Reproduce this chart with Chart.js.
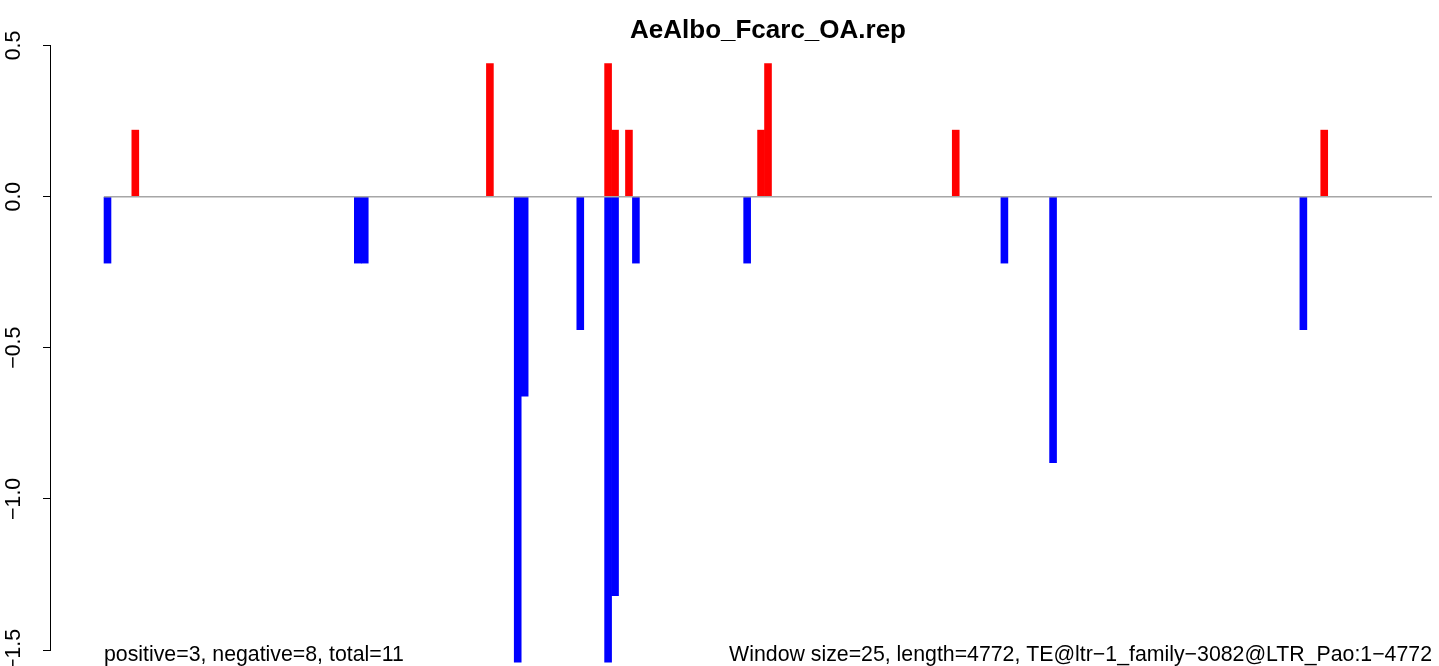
<!DOCTYPE html>
<html>
<head>
<meta charset="utf-8">
<script src="https://cdn.jsdelivr.net/npm/chart.js@4.4.0/dist/chart.umd.min.js"></script>
<style>
    html, body { margin: 0; padding: 0; background: #fff; }
    #wrap { width: 1439px; height: 666px; }
</style>
</head>
<body>
<div id="wrap"><canvas id="repChart" width="1439" height="666"></canvas></div>
<script>
// window index (0-based, 25 bp windows) and value of each bar
const posIdx = [4, 55, 72, 73, 75, 94, 95, 122, 175];
const posVal = [0.22, 0.44, 0.44, 0.22, 0.22, 0.22, 0.44, 0.22, 0.22];
const negIdx = [0, 36, 37, 59, 60, 68, 72, 73, 76, 92, 129, 136, 172];
const negVal = [-0.22, -0.22, -0.22, -1.54, -0.66, -0.44, -1.54, -1.32, -0.22, -0.22, -0.22, -0.88, -0.44];
const windowCount = 191;
const yTicks = [0.5, 0.0, -0.5, -1.0, -1.5];

const titleText = 'AeAlbo_Fcarc_OA.rep';
const leftNote = 'positive=3, negative=8, total=11';
const rightNote = 'Window size=25, length=4772, TE@ltr\u22121_family\u22123082@LTR_Pao:1\u22124772';

const toPoints = (xs, ys) => xs.map((x, i) => ({ x: x, y: ys[i] }));
const fmt = v => (v < 0 ? '\u2212' : '') + Math.abs(v).toFixed(1);

const textPlugin = {
    id: 'rText',
    afterDraw(chart) {
        const ctx = chart.ctx;
        const y = chart.scales.y;
        ctx.save();
        ctx.fillStyle = '#000';

        ctx.font = 'bold 26px "Liberation Sans", Arial, sans-serif';
        ctx.textAlign = 'center';
        ctx.textBaseline = 'alphabetic';
        ctx.fillText(titleText, 768, 38);

        ctx.font = '21.3px "Liberation Sans", Arial, sans-serif';
        ctx.textAlign = 'left';
        ctx.fillText(leftNote, 104, 661);
        ctx.textAlign = 'right';
        ctx.fillText(rightNote, 1432, 661);

        // rotated y tick labels
        ctx.textAlign = 'center';
        ctx.textBaseline = 'middle';
        yTicks.forEach(v => {
            ctx.save();
            ctx.translate(14, y.getPixelForValue(v));
            ctx.rotate(-Math.PI / 2);
            ctx.fillText(fmt(v), 0, 0);
            ctx.restore();
        });
        ctx.restore();
    }
};

new Chart(document.getElementById('repChart').getContext('2d'), {
    data: {
        datasets: [
            {
                type: 'line',
                data: [{ x: -0.5, y: 0 }, { x: windowCount - 0.5, y: 0 }],
                borderColor: '#a6a6a6',
                borderWidth: 1.5,
                pointRadius: 0,
                order: 0
            },
            {
                type: 'bar',
                data: toPoints(posIdx, posVal),
                backgroundColor: '#ff0000',
                borderWidth: 0,
                grouped: false,
                barPercentage: 1,
                categoryPercentage: 1,
                clip: false,
                order: 1
            },
            {
                type: 'bar',
                data: toPoints(negIdx, negVal),
                backgroundColor: '#0000ff',
                borderWidth: 0,
                grouped: false,
                barPercentage: 1,
                categoryPercentage: 1,
                clip: false,
                order: 1
            }
        ]
    },
    options: {
        responsive: false,
        devicePixelRatio: 1,
        animation: false,
        layout: {
            padding: { top: 45.5, right: 7, bottom: 16, left: 0 }
        },
        plugins: {
            legend: { display: false },
            tooltip: { enabled: false },
            title: { display: false }
        },
        scales: {
            x: {
                type: 'linear',
                min: -8.27,
                max: windowCount - 0.5,
                offset: false,
                display: false
            },
            y: {
                min: -1.5,
                max: 0.5,
                afterFit(scale) {
                    scale.width = 50;
                },
                afterBuildTicks(scale) {
                    scale.ticks = yTicks.map(v => ({ value: v }));
                },
                ticks: {
                    display: false
                },
                grid: {
                    drawOnChartArea: false,
                    drawTicks: true,
                    tickLength: 7,
                    color: '#000',
                    lineWidth: 1
                },
                border: {
                    display: true,
                    color: '#000',
                    width: 1
                }
            }
        }
    },
    plugins: [textPlugin]
});
</script>
</body>
</html>
